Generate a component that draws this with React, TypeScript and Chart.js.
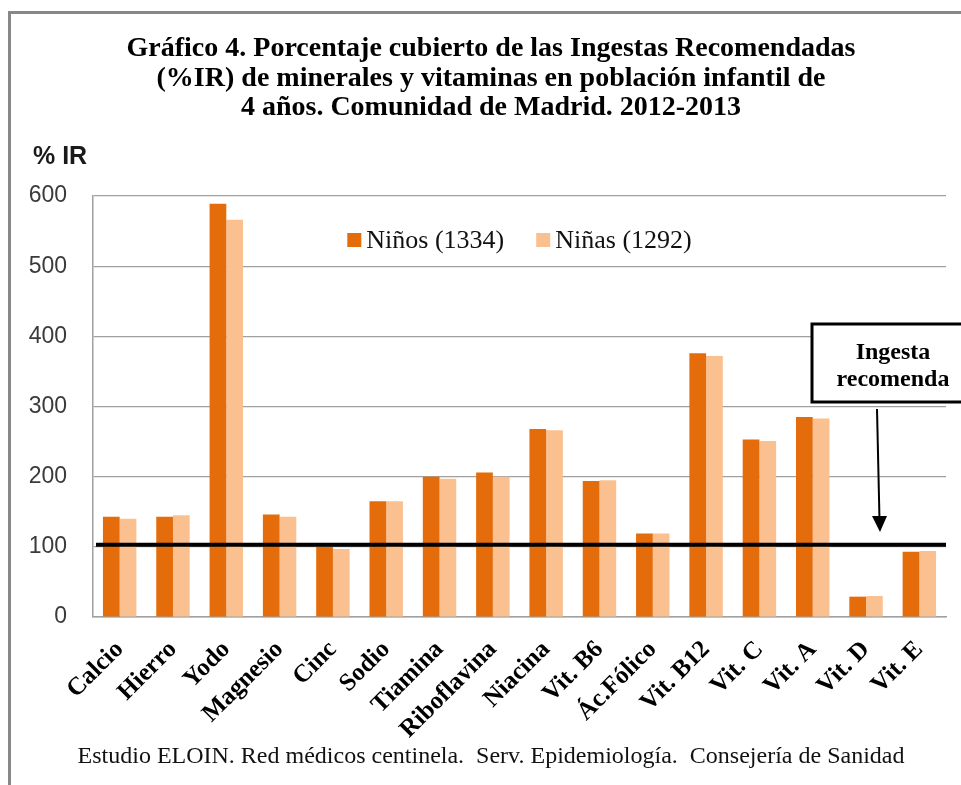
import React, { useEffect, useRef } from "react";
import { Chart, registerables } from "chart.js";

Chart.register(...registerables);

const categories = [
  "Calcio", "Hierro", "Yodo", "Magnesio", "Cinc", "Sodio", "Tiamina", "Riboflavina",
  "Niacina", "Vit. B6", "Ác.Fólico", "Vit. B12", "Vit. C", "Vit. A", "Vit. D", "Vit. E",
];
const ninos = [143, 143, 589, 146, 100, 165, 200, 206, 268, 194, 119, 376, 253, 285, 29, 93];
const ninas = [140, 145, 566, 143, 97, 165, 197, 200, 266, 195, 119, 372, 251, 283, 30, 94];
const seriesLabels = ["Niños (1334)", "Niñas (1292)"];
const seriesColors = ["#E46C0A", "#FAC090"];
const yTicks = [0, 100, 200, 300, 400, 500, 600];
const referenceValue = 103;
const titleLines = [
  "Gráfico 4. Porcentaje cubierto de las Ingestas Recomendadas",
  "(%IR) de minerales y vitaminas en población infantil de",
  "4 años. Comunidad de Madrid. 2012-2013",
];
const yAxisTitle = "% IR";
const annotationLines = ["Ingesta", "recomenda"];
const footerText =
  "Estudio ELOIN. Red médicos centinela.  Serv. Epidemiología.  Consejería de Sanidad";

const overlayPlugin = {
  id: "overlay",
  afterDatasetsDraw(chart: any) {
    const ctx = chart.ctx as CanvasRenderingContext2D;
    const area = chart.chartArea;
    const yScale = chart.scales.y;
    ctx.save();

    // reference line
    const yRef = yScale.getPixelForValue(referenceValue);
    ctx.strokeStyle = "#000";
    ctx.lineWidth = 4;
    ctx.beginPath();
    ctx.moveTo(area.left + 3, yRef);
    ctx.lineTo(area.right, yRef);
    ctx.stroke();

    // title
    ctx.fillStyle = "#000";
    ctx.textAlign = "center";
    ctx.textBaseline = "alphabetic";
    ctx.font = 'bold 28px "Liberation Serif"';
    const tb = [56, 86, 115];
    titleLines.forEach((l, i) => ctx.fillText(l, 491, tb[i]));

    // y axis title
    ctx.textAlign = "left";
    ctx.font = 'bold 25px "Liberation Sans"';
    ctx.fillStyle = "#1a1a1a";
    ctx.fillText(yAxisTitle, 33, 164);

    // legend
    ctx.font = '26px "Liberation Serif"';
    ctx.textBaseline = "middle";
    const marker = 14;
    const gap = 5;
    const itemGap = 32;
    const widths = chart.data.datasets.map((d: any) => ctx.measureText(d.label).width);
    const total =
      widths.reduce((a: number, w: number) => a + marker + gap + w, 0) +
      itemGap * (widths.length - 1);
    let x = (area.left + area.right) / 2 - total / 2;
    const ly = 240;
    chart.data.datasets.forEach((d: any, i: number) => {
      ctx.fillStyle = d.backgroundColor;
      ctx.fillRect(x, ly - marker / 2, marker, marker);
      x += marker + gap;
      ctx.fillStyle = "#111";
      ctx.textAlign = "left";
      ctx.fillText(d.label, x, ly + 1);
      x += widths[i] + itemGap;
    });

    // annotation box
    ctx.strokeStyle = "#000";
    ctx.lineWidth = 3;
    ctx.fillStyle = "#fff";
    ctx.fillRect(812, 324, 162, 78);
    ctx.strokeRect(812, 324, 162, 78);
    ctx.fillStyle = "#000";
    ctx.font = 'bold 24px "Liberation Serif"';
    ctx.textAlign = "center";
    ctx.textBaseline = "alphabetic";
    ctx.fillText(annotationLines[0], 893, 359);
    ctx.fillText(annotationLines[1], 893, 386);

    // arrow
    ctx.lineWidth = 2;
    ctx.beginPath();
    ctx.moveTo(877, 409);
    ctx.lineTo(879.5, 520);
    ctx.stroke();
    ctx.beginPath();
    ctx.moveTo(872, 516);
    ctx.lineTo(887, 516);
    ctx.lineTo(880, 532);
    ctx.closePath();
    ctx.fill();

    // footer
    ctx.font = '24px "Liberation Serif"';
    ctx.fillStyle = "#111";
    ctx.fillText(footerText, 491, 763);

    ctx.restore();
  },
};

export default function App() {
  const ref = useRef<HTMLCanvasElement>(null);
  useEffect(() => {
    const chart = new Chart(ref.current as HTMLCanvasElement, {
      type: "bar",
      data: {
        labels: categories,
        datasets: [
          {
            label: seriesLabels[0],
            data: ninos,
            backgroundColor: seriesColors[0],
            borderWidth: 0,
            categoryPercentage: 0.627,
            barPercentage: 1,
          },
          {
            label: seriesLabels[1],
            data: ninas,
            backgroundColor: seriesColors[1],
            borderWidth: 0,
            categoryPercentage: 0.627,
            barPercentage: 1,
          },
        ],
      },
      options: {
        animation: false,
        responsive: false,
        devicePixelRatio: 1,
        layout: { padding: { left: 13, top: 196, right: 15, bottom: 0 } },
        plugins: {
          legend: { display: false },
          title: { display: false },
          tooltip: { enabled: false },
        },
        scales: {
          x: {
            grid: { display: false, drawTicks: false },
            border: { display: true, color: "#a0a0a0", width: 1.5 },
            ticks: {
              font: { family: "Liberation Serif", size: 25, weight: "bold" },
              color: "#000",
              minRotation: 45,
              maxRotation: 45,
              autoSkip: false,
              padding: 18,
            },
            afterFit: (s: any) => {
              s.height = 168;
            },
          },
          y: {
            min: 0,
            max: 600,
            afterBuildTicks: (s: any) => {
              s.ticks = yTicks.map((v) => ({ value: v }));
            },
            ticks: {
              font: { family: "Liberation Sans", size: 23 },
              color: "#3a3a3a",
              padding: 26,
            },
            grid: { color: "#a0a0a0", lineWidth: 1.2, drawTicks: false },
            border: { display: true, color: "#a0a0a0", width: 1.5 },
            afterFit: (s: any) => {
              s.width = 80;
            },
          },
        },
      },
      plugins: [overlayPlugin],
    } as any);
    return () => chart.destroy();
  }, []);

  return (
    <div
      style={{
        position: "fixed",
        left: 0,
        top: 0,
        width: 961,
        height: 785,
        overflow: "hidden",
        background: "#fff",
      }}
    >
      <div
        style={{
          position: "absolute",
          left: 8,
          top: 11,
          width: 1100,
          height: 1100,
          border: "3px solid #888",
          boxSizing: "border-box",
        }}
      />
      <canvas
        ref={ref}
        width={961}
        height={785}
        style={{ position: "absolute", left: 0, top: 0, width: 961, height: 785 }}
      />
    </div>
  );
}
